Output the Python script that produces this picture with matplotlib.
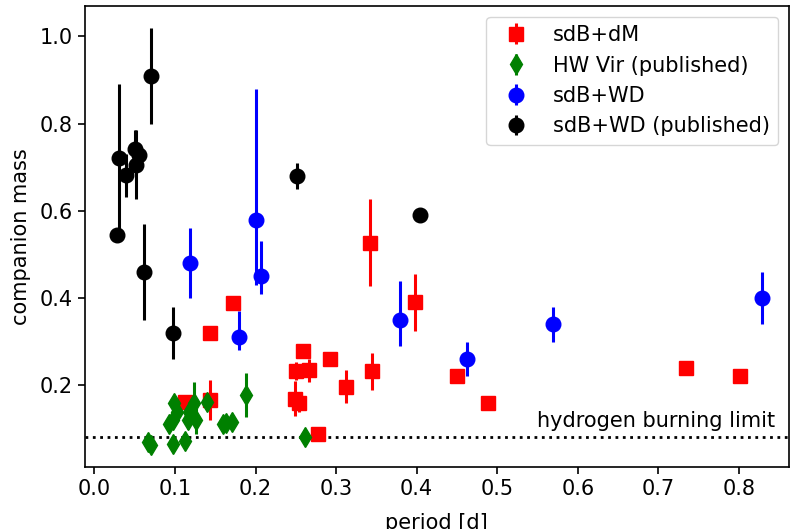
import matplotlib
matplotlib.use('Agg')
import matplotlib.pyplot as plt

# sdB+dM
dm_per = [0.112, 0.143, 0.144, 0.172, 0.249, 0.254, 0.250, 0.259, 0.266, 0.277,
          0.293, 0.312, 0.342, 0.344, 0.398, 0.450, 0.489, 0.734, 0.801]
dm_mass = [0.161, 0.165, 0.320, 0.388, 0.169, 0.159, 0.232, 0.278, 0.234, 0.089,
           0.261, 0.196, 0.527, 0.232, 0.390, 0.221, 0.158, 0.239, 0.221]
dm_err = [0.01, 0.046, 0.01, 0.01, 0.04, 0.02, 0.02, 0.01, 0.026, 0.01,
          0.01, 0.038, 0.10, 0.042, 0.066, 0.01, 0.01, 0.012, 0.01]

# HW Vir (published)
hw_per = [0.066, 0.070, 0.097, 0.112, 0.099, 0.097, 0.093, 0.103, 0.116, 0.124,
          0.126, 0.118, 0.140, 0.159, 0.163, 0.171, 0.188, 0.261]
hw_mass = [0.070, 0.062, 0.066, 0.073, 0.158, 0.119, 0.112, 0.138, 0.119, 0.158,
           0.119, 0.138, 0.161, 0.112, 0.113, 0.115, 0.177, 0.080]
hw_err = [0.005, 0.005, 0.005, 0.005, 0.01, 0.01, 0.01, 0.01, 0.02, 0.05,
          0.03, 0.01, 0.01, 0.01, 0.005, 0.005, 0.05, 0.01]

# sdB+WD
wd_per = [0.119, 0.179, 0.200, 0.207, 0.379, 0.462, 0.569, 0.829]
wd_mass = [0.48, 0.31, 0.58, 0.45, 0.35, 0.26, 0.34, 0.40]
wd_lo = [0.08, 0.03, 0.15, 0.04, 0.06, 0.04, 0.04, 0.06]
wd_hi = [0.08, 0.06, 0.30, 0.08, 0.09, 0.04, 0.04, 0.06]

# sdB+WD (published)
pub_per = [0.028, 0.031, 0.039, 0.050, 0.055, 0.052, 0.070, 0.061, 0.098, 0.252, 0.404]
pub_mass = [0.545, 0.720, 0.681, 0.741, 0.727, 0.706, 0.910, 0.459, 0.320, 0.680, 0.590]
pub_err = [0.01, 0.17, 0.05, 0.045, 0.02, 0.08, 0.11, 0.11, 0.06, 0.03, 0.015]

plt.rcParams['font.size'] = 15
plt.rcParams['axes.linewidth'] = 1.2
plt.rcParams['xtick.major.size'] = 5
plt.rcParams['ytick.major.size'] = 5
plt.rcParams['xtick.major.width'] = 1.2
plt.rcParams['ytick.major.width'] = 1.2

fig, ax = plt.subplots(figsize=(7.92, 5.29), dpi=100)
fig.subplots_adjust(left=0.107, right=0.996, top=0.988, bottom=0.117)

kw = dict(linestyle='none', markersize=10.5, elinewidth=2.2, capsize=0)
ax.errorbar(dm_per, dm_mass, yerr=dm_err, fmt='s', color='red', label='sdB+dM', **kw)
ax.errorbar(hw_per, hw_mass, yerr=hw_err, fmt='d', color='green', label='HW Vir (published)', **kw)
ax.errorbar(wd_per, wd_mass, yerr=[wd_lo, wd_hi], fmt='o', color='blue', label='sdB+WD', **kw)
ax.errorbar(pub_per, pub_mass, yerr=pub_err, fmt='o', color='black', label='sdB+WD (published)', **kw)

ax.axhline(0.08, color='black', linestyle=':', linewidth=2)
ax.text(0.55, 0.104, 'hydrogen burning limit')

ax.set_xlim(-0.012, 0.862)
ax.set_ylim(0.012, 1.069)
ax.set_xlabel('period [d]', labelpad=10)
ax.set_ylabel('companion mass', labelpad=6)
ax.legend(loc='upper right')

fig.savefig('out.png', dpi=100)
